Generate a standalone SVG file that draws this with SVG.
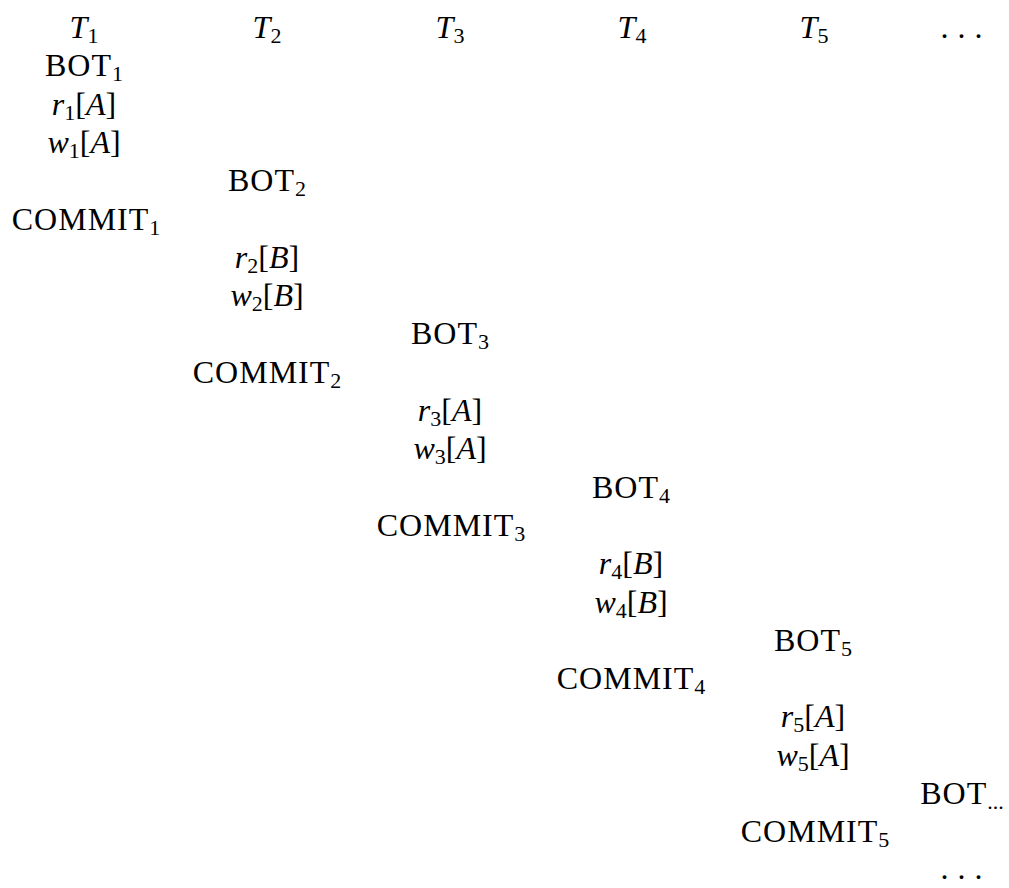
<svg xmlns="http://www.w3.org/2000/svg" width="1009" height="888" viewBox="0 0 1009 888">
  <style>
    text { font-family: "Liberation Serif", "DejaVu Serif", serif; font-size: 32px; fill: #000; text-anchor: middle; }
    .w { letter-spacing: 1px; }
    .i { font-style: italic; }
    .s { font-size: 22px; font-style: normal; letter-spacing: 0; }
    .dots { letter-spacing: 9px; }
  </style>
  <rect width="1009" height="888" fill="#fff"/>

  <!-- column headers: one per transaction -->
  <g id="header">
    <text x="84" y="38"><tspan class="i">T</tspan><tspan class="s" dy="5">1</tspan></text>
    <text x="267" y="38"><tspan class="i">T</tspan><tspan class="s" dy="5">2</tspan></text>
    <text x="450" y="38"><tspan class="i">T</tspan><tspan class="s" dy="5">3</tspan></text>
    <text x="632" y="38"><tspan class="i">T</tspan><tspan class="s" dy="5">4</tspan></text>
    <text x="814" y="38"><tspan class="i">T</tspan><tspan class="s" dy="5">5</tspan></text>
    <text x="966" y="38" class="dots">...</text>
  </g>

  <!-- transaction 1 -->
  <g id="t1">
    <text x="84" y="76.3" class="w">BOT<tspan class="s" dy="5">1</tspan></text>
    <text x="84" y="114.6"><tspan class="i">r</tspan><tspan class="s" dy="5">1</tspan><tspan dy="-5">[</tspan><tspan class="i">A</tspan>]</text>
    <text x="84" y="152.9"><tspan class="i">w</tspan><tspan class="s" dy="5">1</tspan><tspan dy="-5">[</tspan><tspan class="i">A</tspan>]</text>
    <text x="86" y="229.5" class="w">COMMIT<tspan class="s" dy="5">1</tspan></text>
  </g>

  <!-- transaction 2 -->
  <g id="t2">
    <text x="267" y="191.2" class="w">BOT<tspan class="s" dy="5">2</tspan></text>
    <text x="267" y="267.8"><tspan class="i">r</tspan><tspan class="s" dy="5">2</tspan><tspan dy="-5">[</tspan><tspan class="i">B</tspan>]</text>
    <text x="267" y="306.1"><tspan class="i">w</tspan><tspan class="s" dy="5">2</tspan><tspan dy="-5">[</tspan><tspan class="i">B</tspan>]</text>
    <text x="267" y="382.7" class="w">COMMIT<tspan class="s" dy="5">2</tspan></text>
  </g>

  <!-- transaction 3 -->
  <g id="t3">
    <text x="450" y="344.4" class="w">BOT<tspan class="s" dy="5">3</tspan></text>
    <text x="450" y="421"><tspan class="i">r</tspan><tspan class="s" dy="5">3</tspan><tspan dy="-5">[</tspan><tspan class="i">A</tspan>]</text>
    <text x="450" y="459.3"><tspan class="i">w</tspan><tspan class="s" dy="5">3</tspan><tspan dy="-5">[</tspan><tspan class="i">A</tspan>]</text>
    <text x="451" y="535.9" class="w">COMMIT<tspan class="s" dy="5">3</tspan></text>
  </g>

  <!-- transaction 4 -->
  <g id="t4">
    <text x="631" y="497.6" class="w">BOT<tspan class="s" dy="5">4</tspan></text>
    <text x="631" y="574.2"><tspan class="i">r</tspan><tspan class="s" dy="5">4</tspan><tspan dy="-5">[</tspan><tspan class="i">B</tspan>]</text>
    <text x="631" y="612.5"><tspan class="i">w</tspan><tspan class="s" dy="5">4</tspan><tspan dy="-5">[</tspan><tspan class="i">B</tspan>]</text>
    <text x="631" y="689.1" class="w">COMMIT<tspan class="s" dy="5">4</tspan></text>
  </g>

  <!-- transaction 5 -->
  <g id="t5">
    <text x="813" y="650.8" class="w">BOT<tspan class="s" dy="5">5</tspan></text>
    <text x="813" y="727.4"><tspan class="i">r</tspan><tspan class="s" dy="5">5</tspan><tspan dy="-5">[</tspan><tspan class="i">A</tspan>]</text>
    <text x="813" y="765.7"><tspan class="i">w</tspan><tspan class="s" dy="5">5</tspan><tspan dy="-5">[</tspan><tspan class="i">A</tspan>]</text>
    <text x="815" y="842" class="w">COMMIT<tspan class="s" dy="5">5</tspan></text>
  </g>

  <!-- further transactions -->
  <g id="tn">
    <text x="962" y="804" class="w">BOT<tspan class="s" dy="5">...</tspan></text>
    <text x="966" y="879" class="dots">...</text>
  </g>
</svg>
